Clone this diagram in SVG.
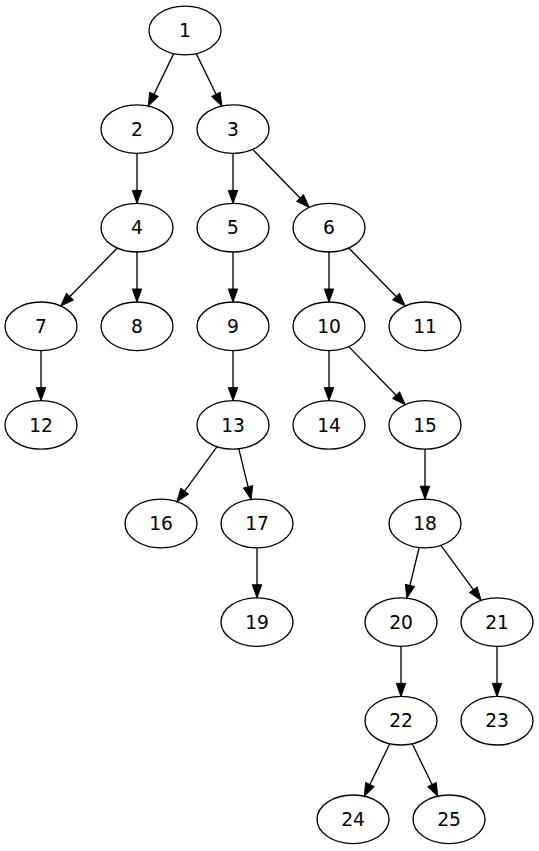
<svg xmlns="http://www.w3.org/2000/svg" width="539" height="851" viewBox="0 0 539 851">
<style>
.node ellipse{fill:none;stroke:#000;stroke-width:1.33}
.node text{font-family:"DejaVu Sans","Liberation Sans",sans-serif;font-size:18.67px;text-anchor:middle;fill:#000}
.edges line{stroke:#000;stroke-width:1.33;marker-end:url(#arrow)}
</style>
<defs>
<marker id="arrow" markerUnits="userSpaceOnUse" viewBox="0 -5 14 10" markerWidth="14" markerHeight="10" refX="3" refY="0" orient="auto" overflow="visible">
<path d="M0,-4.7 L13,0 L0,4.7 Z" fill="#000" stroke="#000" stroke-width="1"/>
</marker>
</defs>
<rect width="539" height="851" fill="#fff"/>
<g id="edges" class="edges">
<line x1="173.76" y1="53.59" x2="152.62" y2="97.02"/>
<line x1="196.24" y1="53.59" x2="217.38" y2="97.02"/>
<line x1="137" y1="153.4" x2="137" y2="193.4"/>
<line x1="233" y1="153.4" x2="233" y2="193.4"/>
<line x1="252.77" y1="149.41" x2="302.25" y2="200.22"/>
<line x1="117.23" y1="248.01" x2="67.75" y2="298.82"/>
<line x1="137" y1="252" x2="137" y2="292"/>
<line x1="233" y1="252" x2="233" y2="292"/>
<line x1="329" y1="252" x2="329" y2="292"/>
<line x1="348.77" y1="248.01" x2="398.25" y2="298.82"/>
<line x1="41" y1="350.6" x2="41" y2="390.6"/>
<line x1="233" y1="350.6" x2="233" y2="390.6"/>
<line x1="329" y1="350.6" x2="329" y2="390.6"/>
<line x1="348.77" y1="346.61" x2="398.25" y2="397.42"/>
<line x1="217.08" y1="446.7" x2="182.82" y2="493.62"/>
<line x1="238.84" y1="448.88" x2="248.79" y2="489.8"/>
<line x1="425" y1="449.2" x2="425" y2="489.2"/>
<line x1="257" y1="547.8" x2="257" y2="587.8"/>
<line x1="419.16" y1="547.48" x2="409.21" y2="588.4"/>
<line x1="440.92" y1="545.3" x2="475.18" y2="592.22"/>
<line x1="401" y1="646.4" x2="401" y2="686.4"/>
<line x1="497" y1="646.4" x2="497" y2="686.4"/>
<line x1="389.76" y1="743.79" x2="368.62" y2="787.22"/>
<line x1="412.24" y1="743.79" x2="433.38" y2="787.22"/>
</g>
<g id="n1" class="node"><ellipse cx="185" cy="30.5" rx="36" ry="24.3"/><text x="185" y="37.2">1</text></g>
<g id="n2" class="node"><ellipse cx="137" cy="129.1" rx="36" ry="24.3"/><text x="137" y="135.8">2</text></g>
<g id="n3" class="node"><ellipse cx="233" cy="129.1" rx="36" ry="24.3"/><text x="233" y="135.8">3</text></g>
<g id="n4" class="node"><ellipse cx="137" cy="227.7" rx="36" ry="24.3"/><text x="137" y="234.4">4</text></g>
<g id="n5" class="node"><ellipse cx="233" cy="227.7" rx="36" ry="24.3"/><text x="233" y="234.4">5</text></g>
<g id="n6" class="node"><ellipse cx="329" cy="227.7" rx="36" ry="24.3"/><text x="329" y="234.4">6</text></g>
<g id="n7" class="node"><ellipse cx="41" cy="326.3" rx="36" ry="24.3"/><text x="41" y="333">7</text></g>
<g id="n8" class="node"><ellipse cx="137" cy="326.3" rx="36" ry="24.3"/><text x="137" y="333">8</text></g>
<g id="n9" class="node"><ellipse cx="233" cy="326.3" rx="36" ry="24.3"/><text x="233" y="333">9</text></g>
<g id="n10" class="node"><ellipse cx="329" cy="326.3" rx="36" ry="24.3"/><text x="329" y="333">10</text></g>
<g id="n11" class="node"><ellipse cx="425" cy="326.3" rx="36" ry="24.3"/><text x="425" y="333">11</text></g>
<g id="n12" class="node"><ellipse cx="41" cy="424.9" rx="36" ry="24.3"/><text x="41" y="431.6">12</text></g>
<g id="n13" class="node"><ellipse cx="233" cy="424.9" rx="36" ry="24.3"/><text x="233" y="431.6">13</text></g>
<g id="n14" class="node"><ellipse cx="329" cy="424.9" rx="36" ry="24.3"/><text x="329" y="431.6">14</text></g>
<g id="n15" class="node"><ellipse cx="425" cy="424.9" rx="36" ry="24.3"/><text x="425" y="431.6">15</text></g>
<g id="n16" class="node"><ellipse cx="161" cy="523.5" rx="36" ry="24.3"/><text x="161" y="530.2">16</text></g>
<g id="n17" class="node"><ellipse cx="257" cy="523.5" rx="36" ry="24.3"/><text x="257" y="530.2">17</text></g>
<g id="n18" class="node"><ellipse cx="425" cy="523.5" rx="36" ry="24.3"/><text x="425" y="530.2">18</text></g>
<g id="n19" class="node"><ellipse cx="257" cy="622.1" rx="36" ry="24.3"/><text x="257" y="628.8">19</text></g>
<g id="n20" class="node"><ellipse cx="401" cy="622.1" rx="36" ry="24.3"/><text x="401" y="628.8">20</text></g>
<g id="n21" class="node"><ellipse cx="497" cy="622.1" rx="36" ry="24.3"/><text x="497" y="628.8">21</text></g>
<g id="n22" class="node"><ellipse cx="401" cy="720.7" rx="36" ry="24.3"/><text x="401" y="727.4">22</text></g>
<g id="n23" class="node"><ellipse cx="497" cy="720.7" rx="36" ry="24.3"/><text x="497" y="727.4">23</text></g>
<g id="n24" class="node"><ellipse cx="353" cy="819.3" rx="36" ry="24.3"/><text x="353" y="826">24</text></g>
<g id="n25" class="node"><ellipse cx="449" cy="819.3" rx="36" ry="24.3"/><text x="449" y="826">25</text></g>
</svg>
